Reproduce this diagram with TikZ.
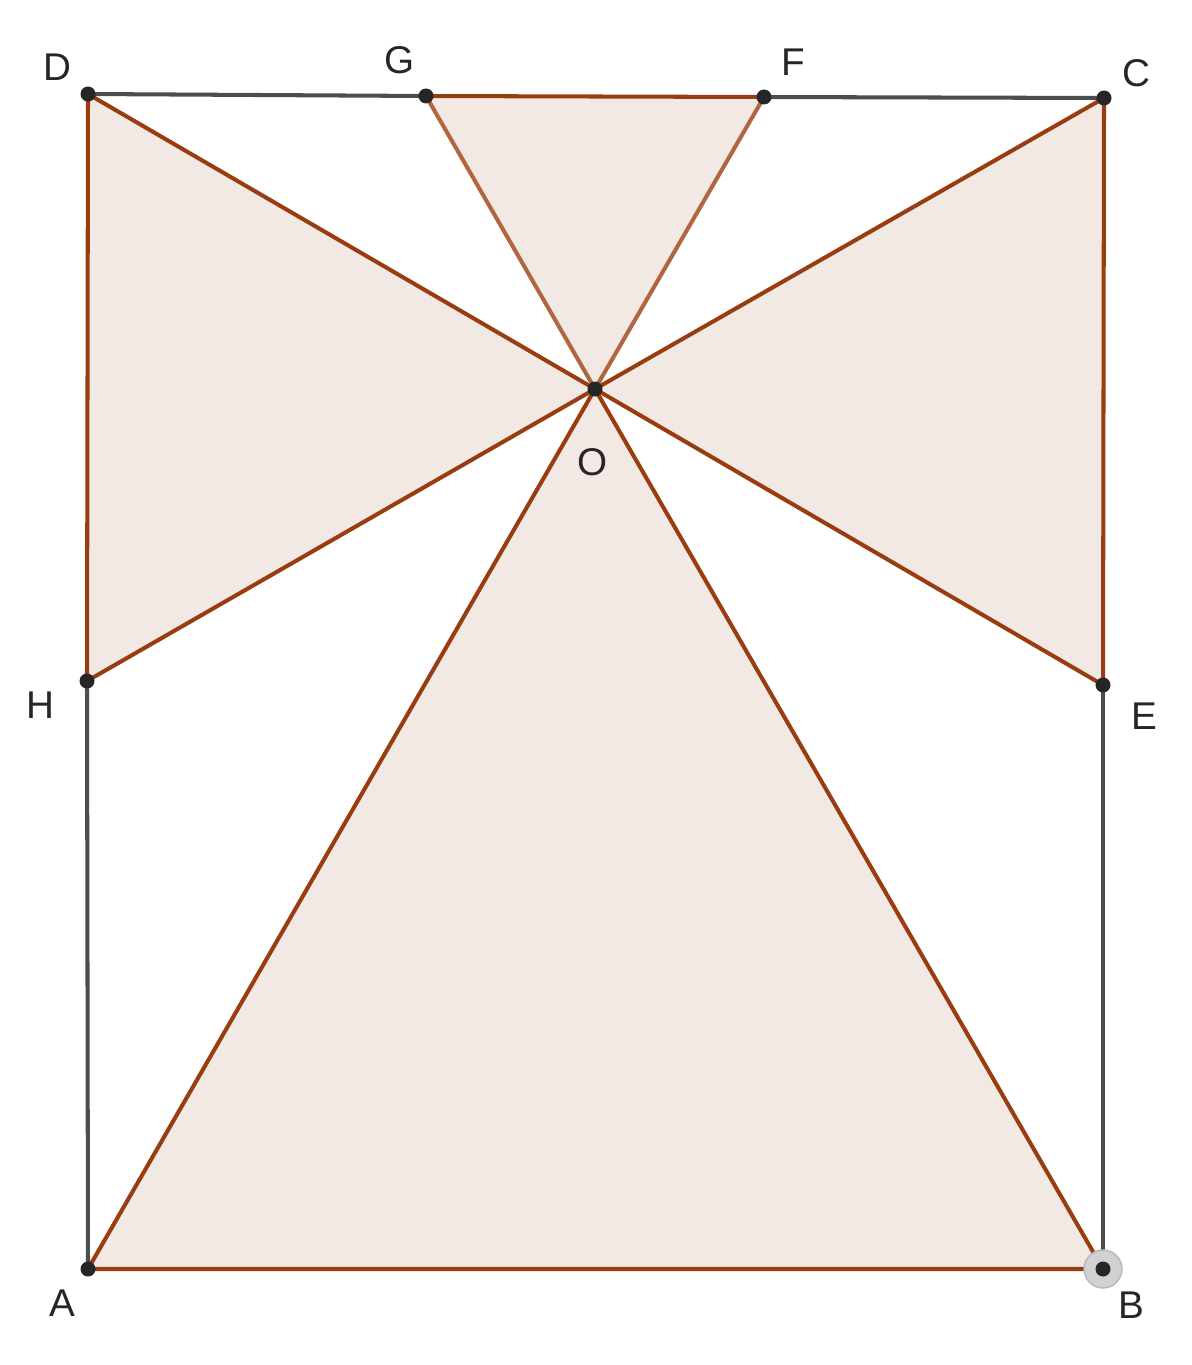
\documentclass[tikz,border=0pt]{standalone}
\usepackage{fontspec}
\setmainfont{Liberation Sans}
\usetikzlibrary{calc,positioning}

\definecolor{brn}{RGB}{153,61,16}
\definecolor{brnlt}{RGB}{178,102,64}
\definecolor{fillc}{RGB}{243,233,228}
\definecolor{segc}{RGB}{77,77,77}

\begin{document}
\begin{tikzpicture}[x=0.02cm, y=-0.02cm, line join=round,
    tri/.style={draw=brn, line width=2.3pt},
    seg/.style={draw=segc, line width=2.3pt},
    pt/.style={circle, fill=black!85, inner sep=0pt, minimum size=0.3cm},
    lbl/.style={font=\fontsize{22}{26}\selectfont, text=black!85}]

    \useasboundingbox (0,0) rectangle (1191,1365);

    % points
    \coordinate (A) at (88,1269);
    \coordinate (B) at (1103,1269);
    \coordinate (C) at (1104,98);
    \coordinate (D) at (88,94);
    \coordinate (E) at (1103,685);
    \coordinate (F) at (764,97);
    \coordinate (G) at (426,96);
    \coordinate (H) at (87,681);
    \coordinate (O) at (595,389);

    % filled triangles
    \path[fill=fillc]  (A) -- (B) -- (O) -- cycle;
    \path[fill=fillc]  (D) -- (H) -- (O) -- cycle;
    \path[fill=fillc]  (C) -- (E) -- (O) -- cycle;
    \path[fill=fillc]  (G) -- (F) -- (O) -- cycle;

    % rectangle sides
    \draw[seg] (D) -- (G);
    \draw[seg] (F) -- (C);
    \draw[seg] (H) -- (A);
    \draw[seg] (E) -- (B);

    % triangle sides
    \draw[tri] (A) -- (B) -- (O) -- cycle;
    \draw[tri] (D) -- (H) -- (O) -- cycle;
    \draw[tri] (C) -- (E) -- (O) -- cycle;
    \draw[tri, draw=brnlt] (G) -- (O) -- (F);
    \draw[tri] (G) -- (F);

    % dots
    \fill[black!18] (B) circle (0.38cm);
    \draw[black!28, line width=0.8pt] (B) circle (0.38cm);
    \foreach \p in {A,B,C,D,E,F,G,H,O}
        \node[pt] (d\p) at (\p) {};

    % labels
    \node[lbl] (lA) at (62,1303) {A};
    \node[lbl] (lB) at (1131,1305) {B};
    \node[lbl] (lC) at (1136,73) {C};
    \node[lbl] (lD) at (57,67) {D};
    \node[lbl] (lE) at (1144,716) {E};
    \node[lbl] (lF) at (793,62) {F};
    \node[lbl] (lG) at (400,60) {G};
    \node[lbl] (lH) at (40,705) {H};
    \node[lbl] (lO) at (593,462) {O};

\end{tikzpicture}
\end{document}
